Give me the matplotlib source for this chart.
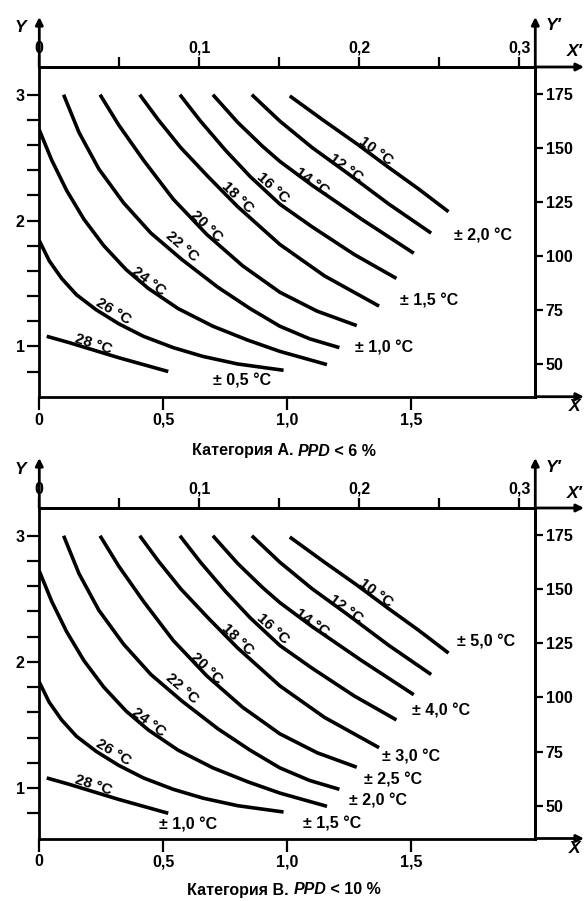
import matplotlib
matplotlib.use('Agg')
import matplotlib.pyplot as plt
from matplotlib.offsetbox import TextArea, HPacker, AnnotationBbox

plt.rcParams['font.family'] = ['Liberation Sans', 'DejaVu Sans']
plt.rcParams['font.weight'] = 'bold'

# ---------------- data (X in clo, Y in met) ----------------
temps = [10, 12, 14, 16, 18, 20, 22, 24, 26, 28]

x10 = [1.01, 1.15, 1.28, 1.41, 1.53, 1.65]
y10 = [2.99, 2.79, 2.61, 2.42, 2.25, 2.07]
x12 = [0.857, 0.97, 1.10, 1.24, 1.41, 1.58]
y12 = [3.00, 2.79, 2.58, 2.38, 2.13, 1.90]
x14 = [0.70, 0.80, 0.90, 0.97, 1.10, 1.30, 1.51]
y14 = [3.00, 2.78, 2.59, 2.47, 2.28, 2.01, 1.74]
x16 = [0.567, 0.65, 0.75, 0.85, 0.97, 1.10, 1.27, 1.44]
y16 = [3.00, 2.79, 2.56, 2.35, 2.13, 1.95, 1.73, 1.54]
x18 = [0.405, 0.48, 0.57, 0.68, 0.80, 0.97, 1.15, 1.37]
y18 = [3.00, 2.80, 2.58, 2.35, 2.11, 1.81, 1.56, 1.32]
x20 = [0.245, 0.32, 0.42, 0.54, 0.675, 0.82, 0.97, 1.12, 1.28]
y20 = [3.00, 2.76, 2.48, 2.17, 1.89, 1.64, 1.43, 1.28, 1.165]
x22 = [0.098, 0.16, 0.24, 0.34, 0.45, 0.575, 0.72, 0.85, 0.97, 1.09, 1.21]
y22 = [3.00, 2.70, 2.41, 2.14, 1.90, 1.69, 1.47, 1.30, 1.16, 1.06, 0.99]
x24 = [0.0, 0.05, 0.11, 0.18, 0.26, 0.35, 0.44, 0.56, 0.70, 0.84, 0.97, 1.16]
y24 = [2.72, 2.48, 2.24, 2.01, 1.80, 1.61, 1.46, 1.30, 1.16, 1.05, 0.96, 0.855]
x26 = [0.0, 0.04, 0.09, 0.15, 0.23, 0.32, 0.42, 0.54, 0.66, 0.80, 0.985]
y26 = [1.84, 1.68, 1.54, 1.41, 1.29, 1.18, 1.08, 0.99, 0.92, 0.86, 0.81]
x28 = [0.03, 0.12, 0.22, 0.32, 0.42, 0.52]
y28 = [1.08, 1.03, 0.97, 0.91, 0.855, 0.80]

curve_x = [x10, x12, x14, x16, x18, x20, x22, x24, x26, x28]
curve_y = [y10, y12, y14, y16, y18, y20, y22, y24, y26, y28]
curve_labels = [f"{t} °C" for t in temps]

tolA_text = ["± 0,5 °C", "± 1,0 °C", "± 1,5 °C", "± 2,0 °C"]
tolB_text = ["± 1,0 °C", "± 1,5 °C", "± 2,0 °C", "± 2,5 °C", "± 3,0 °C", "± 4,0 °C", "± 5,0 °C"]

xticks_clo = [0, 0.5, 1.0, 1.5]
xticklabels_clo = ["0", "0,5", "1,0", "1,5"]
yticks_met = [1, 2, 3]
yticklabels_met = ["1", "2", "3"]
yminor_met = [0.8, 1.2, 1.4, 1.6, 1.8, 2.2, 2.4, 2.6, 2.8, 3.0]
xticks_m2kw = [0, 0.1, 0.2, 0.3]
xticklabels_m2kw = ["0", "0,1", "0,2", "0,3"]
xminor_m2kw = [0.05, 0.15, 0.25]
yticks_wm2 = [50, 75, 100, 125, 150, 175]
yticklabels_wm2 = ["50", "75", "100", "125", "150", "175"]

CLO = 0.155    # m2K/W per clo
MET = 58.2     # W/m2 per met

# ---------------- layout ----------------
W, H = 587, 901
label_pos_x = [1.358, 1.237, 1.10, 0.94, 0.80, 0.675, 0.575, 0.44, 0.30, 0.22]
label_pos_y = [2.55, 2.42, 2.31, 2.26, 2.18, 1.95, 1.79, 1.52, 1.28, 1.02]
label_rot = [-36, -36, -35, -42, -44, -44, -41, -37, -31, -18]

tolA_x = [0.818, 1.39, 1.57, 1.79]
tolA_y = [0.727, 0.99, 1.364, 1.88]
tolB_x = [0.598, 1.18, 1.366, 1.426, 1.50, 1.62, 1.80]
tolB_y = [0.708, 0.715, 0.897, 1.063, 1.25, 1.61, 2.16]

fig = plt.figure(figsize=(W / 100, H / 100), dpi=100)
fig.patch.set_facecolor('white')

LW_AX = 2.0
FS_TICK = 11.5
FS_LAB = 11
FS_TOL = 11.5


def panel(top_px, bot_px, tol_text, tol_x, tol_y, cap_parts, cap_y_px):
    left_px, right_px = 39.3, 535.3
    ax = fig.add_axes([left_px / W, 1 - bot_px / H, (right_px - left_px) / W, (bot_px - top_px) / H])
    ax.set_xlim(0, 2.0)
    ax.set_ylim(0.6, 3.22)
    for s in ax.spines.values():
        s.set_linewidth(LW_AX)
    for xs, ys in zip(curve_x, curve_y):
        ax.plot(xs, ys, color='black', lw=2.6, solid_capstyle='butt', solid_joinstyle='round')
    for txt, lx, ly, r in zip(curve_labels, label_pos_x, label_pos_y, label_rot):
        ax.text(lx, ly, txt, rotation=r, rotation_mode='anchor', ha='center', va='center',
                fontsize=FS_LAB, fontweight='bold')
    for txt, lx, ly in zip(tol_text, tol_x, tol_y):
        ax.text(lx, ly, txt, ha='center', va='center', fontsize=FS_TOL, fontweight='bold')

    # main axes ticks
    ax.set_xticks(xticks_clo)
    ax.set_xticklabels(xticklabels_clo)
    ax.set_yticks(yticks_met)
    ax.set_yticklabels(yticklabels_met)
    ax.set_yticks(yminor_met, minor=True)
    ax.tick_params(axis='x', which='both', direction='out', length=9, width=1.6, pad=2.5,
                   labelsize=FS_TICK, top=False)
    ax.tick_params(axis='y', which='both', direction='out', length=9, width=1.6, pad=1.5,
                   labelsize=FS_TICK, right=False)

    sx = ax.secondary_xaxis('top', functions=(lambda x: x * CLO, lambda x: x / CLO))
    sx.set_xticks(xticks_m2kw)
    sx.set_xticklabels(xticklabels_m2kw)
    sx.set_xticks(xminor_m2kw, minor=True)
    sx.tick_params(which='both', direction='out', length=7, width=1.6, pad=1.0, labelsize=FS_TICK)
    sx.spines['top'].set_linewidth(LW_AX)

    sy = ax.secondary_yaxis('right', functions=(lambda y: y * MET, lambda y: y / MET))
    sy.set_yticks(yticks_wm2)
    sy.set_yticklabels(yticklabels_wm2)
    sy.tick_params(which='both', direction='out', length=6, width=1.6, pad=1.5, labelsize=FS_TICK)
    sy.spines['right'].set_linewidth(LW_AX)

    hpx = bot_px - top_px
    wpx = right_px - left_px
    arrow = dict(arrowstyle='-|>', lw=LW_AX, color='black', mutation_scale=11, shrinkA=0, shrinkB=0)
    up = 1 + 50 / hpx
    rx = (584 - left_px) / wpx
    for xy, xyt in [((0, up), (0, 1)), ((1, up), (1, 1)), ((rx, 1), (1, 1)), ((rx, 0), (1, 0))]:
        ax.annotate('', xy=xy, xytext=xyt, xycoords='axes fraction', textcoords='axes fraction',
                    arrowprops=arrow, annotation_clip=False)

    def fig_txt(xp, yp, s):
        fig.text(xp / W, 1 - yp / H, s, ha='center', va='center', fontsize=12.5,
                 fontweight='bold', style='italic')
    fig_txt(20, top_px - 39, "Y")
    fig_txt(553, top_px - 41, "Y′")
    fig_txt(575, top_px - 15, "X′")
    fig_txt(575, bot_px + 10, "X")

    parts = [TextArea(p, textprops=dict(fontsize=11.5, fontweight='bold', style=st))
             for p, st in cap_parts]
    box = HPacker(children=parts, align='baseline', pad=0, sep=0)
    ab = AnnotationBbox(box, (284 / W, 1 - cap_y_px / H), xycoords='figure fraction',
                        frameon=False, box_alignment=(0.5, 0.5))
    fig.add_artist(ab)
    return ax


panel(67, 396.7, tolA_text, tolA_x, tolA_y,
      [("Категория А. ", 'normal'), ("PPD", 'italic'), (" < 6 %", 'normal')], 451)
panel(508, 838.5, tolB_text, tolB_x, tolB_y,
      [("Категория В. ", 'normal'), ("PPD", 'italic'), (" < 10 %", 'normal')], 890)

fig.savefig('out.png', dpi=100, facecolor='white')
